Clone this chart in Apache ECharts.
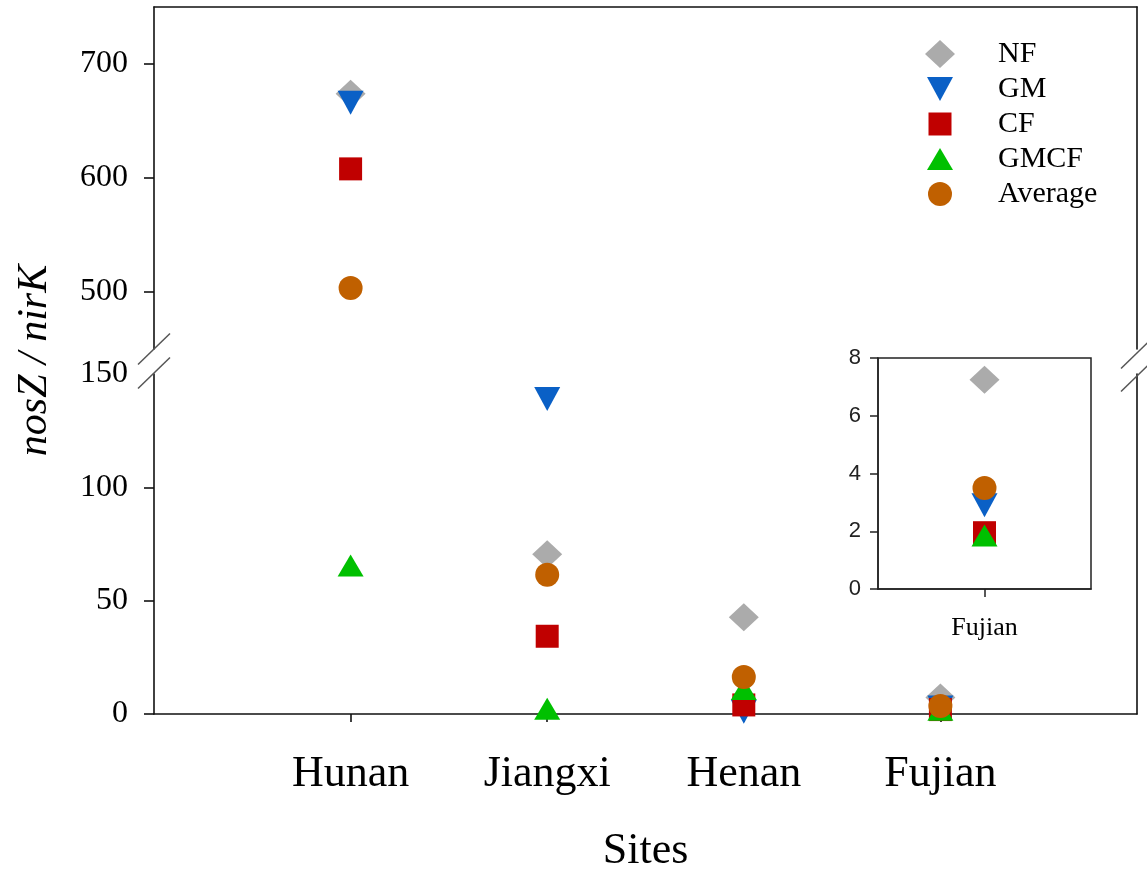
<!DOCTYPE html>
<html><head><meta charset="utf-8">
<script src="https://cdn.jsdelivr.net/npm/echarts@6/dist/echarts.min.js"></script>
<style>html,body{margin:0;padding:0;background:#fff}#c{width:1147px;height:871px}</style>
</head><body><div id="c"></div>
<script>
// ---- data ----
const sites = ['Hunan', 'Jiangxi', 'Henan', 'Fujian'];
const NF      = [674, 70.5, 42.7, 7.25];
const GM      = [666, 139, 1, 2.9];
const CF      = [608, 34.3, 4, 1.95];
const GMCF    = [65.5, 2.3, 11, 1.85];
const Average = [503.5, 61.4, 16.3, 3.5];
const upperTicks = [500, 600, 700];
const lowerTicks = [0, 50, 100, 150];
const insetTicks = [0, 2, 4, 6, 8];
const insetSite = 'Fujian';

const serif = 'Liberation Serif, Times New Roman, serif';
const sans = 'Liberation Sans, Arial, sans-serif';
const ink = '#111';

const treatments = [
  { name: 'NF', data: NF, color: '#ababab', symbol: 'path://M0,0M30,30M0,15L15,1L30,15L15,29Z' },
  { name: 'GM', data: GM, color: '#0a60c6', symbol: 'path://M0,0M30,30M2,3L28,3L15,27Z' },
  { name: 'CF', data: CF, color: '#c00000', symbol: 'path://M0,0M30,30M3.5,3.5L26.5,3.5L26.5,26.5L3.5,26.5Z' },
  { name: 'GMCF', data: GMCF, color: '#00c000', symbol: 'path://M0,0M30,30M15,4L28,26L2,26Z' },
  { name: 'Average', data: Average, color: '#c06000', symbol: 'path://M0,0M30,30M3,15A12,12 0 1,1 27,15A12,12 0 1,1 3,15Z' }
];

const UP_MIN = 450, UP_MAX = 750, LO_MIN = 0, LO_MAX = 150;
const series = [];
const insetIdx = sites.indexOf(insetSite);
treatments.forEach(t => {
  const common = {
    name: t.name, type: 'scatter', symbol: t.symbol, symbolSize: 30,
    itemStyle: { color: t.color, opacity: 1 }, emphasis: { disabled: true }, clip: false
  };
  series.push(Object.assign({}, common, {
    xAxisIndex: 0, yAxisIndex: 0,
    data: t.data.map((v, i) => [i + 1, v]).filter(p => p[1] >= UP_MIN && p[1] <= UP_MAX)
  }));
  series.push(Object.assign({}, common, {
    xAxisIndex: 1, yAxisIndex: 2,
    data: t.data.map((v, i) => [i + 1, v]).filter(p => p[1] >= LO_MIN && p[1] <= LO_MAX)
  }));
  series.push(Object.assign({}, common, {
    xAxisIndex: 2, yAxisIndex: 4, z: 6,
    data: [[1, t.data[insetIdx]]]
  }));
});

const frameLine = { show: true, lineStyle: { color: ink, width: 1.6 } };
const chart = echarts.init(document.getElementById('c'));
chart.setOption({
  animation: false,
  backgroundColor: '#fff',
  grid: [
    { left: 154, right: 10, top: 7, height: 342, outerBoundsMode: 'none', containLabel: false },
    { left: 154, right: 10, top: 374, height: 340, outerBoundsMode: 'none', containLabel: false },
    { left: 878, top: 358, width: 213, height: 231, show: true, borderColor: '#222', borderWidth: 1.5,
      backgroundColor: '#fff', z: 3, outerBoundsMode: 'none', containLabel: false }
  ],
  xAxis: [
    { gridIndex: 0, type: 'value', min: 0, max: 5, position: 'top', axisLine: frameLine,
      axisTick: { show: false }, axisLabel: { show: false }, splitLine: { show: false } },
    { gridIndex: 1, type: 'value', min: 0, max: 5, position: 'bottom', axisLine: frameLine,
      axisTick: { show: true, inside: false, length: 8, lineStyle: { color: ink, width: 1.6 }, customValues: [1, 2, 3, 4] },
      axisLabel: { show: true, margin: 38, customValues: [1, 2, 3, 4], formatter: v => sites[v - 1] || '',
        fontFamily: serif, fontSize: 44, color: '#000' },
      splitLine: { show: false },
      name: 'Sites', nameLocation: 'middle', nameGap: 115,
      nameTextStyle: { fontFamily: serif, fontSize: 44, color: '#000' } },
    { gridIndex: 2, type: 'value', min: 0, max: 2, position: 'bottom', z: 4,
      axisLine: { show: true, lineStyle: { color: '#222', width: 1.5 } },
      axisTick: { show: true, inside: false, length: 8, lineStyle: { color: '#222', width: 1.5 }, customValues: [1] },
      axisLabel: { show: true, margin: 26, customValues: [1], formatter: () => insetSite,
        fontFamily: serif, fontSize: 26, color: '#000' },
      splitLine: { show: false } }
  ],
  yAxis: [
    { gridIndex: 0, type: 'value', min: UP_MIN, max: UP_MAX, position: 'left', axisLine: frameLine,
      axisTick: { show: true, inside: false, length: 10, lineStyle: { color: ink, width: 1.6 }, customValues: upperTicks },
      axisLabel: { margin: 26, padding: [6, 0, 0, 0], customValues: upperTicks, fontFamily: serif, fontSize: 32, color: '#000' },
      splitLine: { show: false } },
    { gridIndex: 0, type: 'value', min: UP_MIN, max: UP_MAX, position: 'right', axisLine: frameLine,
      axisTick: { show: false }, axisLabel: { show: false }, splitLine: { show: false } },
    { gridIndex: 1, type: 'value', min: LO_MIN, max: LO_MAX, position: 'left', axisLine: frameLine,
      axisTick: { show: true, inside: false, length: 10, lineStyle: { color: ink, width: 1.6 }, customValues: lowerTicks.slice(0, 3) },
      axisLabel: { margin: 26, padding: [6, 0, 0, 0], customValues: lowerTicks, fontFamily: serif, fontSize: 32, color: '#000' },
      splitLine: { show: false } },
    { gridIndex: 1, type: 'value', min: LO_MIN, max: LO_MAX, position: 'right', axisLine: frameLine,
      axisTick: { show: false }, axisLabel: { show: false }, splitLine: { show: false } },
    { gridIndex: 2, type: 'value', min: 0, max: 8, position: 'left', z: 4,
      axisLine: { show: true, lineStyle: { color: '#222', width: 1.5 } },
      axisTick: { show: true, inside: false, length: 8, lineStyle: { color: '#222', width: 1.5 }, customValues: insetTicks },
      axisLabel: { margin: 17, customValues: insetTicks, fontFamily: sans, fontSize: 22, color: '#222' },
      splitLine: { show: false } }
  ],
  legend: {
    orient: 'vertical', left: 920, top: 34, itemWidth: 30, itemHeight: 30, itemGap: 5,
    data: treatments.map(t => t.name), selectedMode: false,
    textStyle: { fontFamily: serif, fontSize: 30, color: '#000', padding: [0, 0, 0, 38] }
  },
  series: series
});

// decorations: y title and axis-break marks
const pUpLeft = chart.convertToPixel({ xAxisIndex: 0, yAxisIndex: 0 }, [0, UP_MIN]);
const pUpRight = chart.convertToPixel({ xAxisIndex: 0, yAxisIndex: 0 }, [5, UP_MIN]);
const pLoLeft = chart.convertToPixel({ xAxisIndex: 1, yAxisIndex: 2 }, [0, LO_MAX]);
const pLoRight = chart.convertToPixel({ xAxisIndex: 1, yAxisIndex: 2 }, [5, LO_MAX]);
const pTop = chart.convertToPixel({ xAxisIndex: 0, yAxisIndex: 0 }, [0, UP_MAX]);
const pBot = chart.convertToPixel({ xAxisIndex: 1, yAxisIndex: 2 }, [0, LO_MIN]);
function slash(x, y) {
  return { type: 'line', z: 10, shape: { x1: x - 16, y1: y + 15.5, x2: x + 16, y2: y - 15.5 },
    style: { stroke: '#555', lineWidth: 1.5 } };
}
chart.setOption({
  graphic: [
    slash(pUpLeft[0], pUpLeft[1]), slash(pLoLeft[0], pLoLeft[1] - 1),
    slash(pUpRight[0], pUpRight[1] + 4), slash(pLoRight[0], pLoRight[1] + 2),
    { type: 'text', z: 10, x: 35, y: (pTop[1] + pBot[1]) / 2, rotation: Math.PI / 2,
      style: { text: 'nosZ / nirK', font: 'italic 42px ' + serif, fill: '#000', align: 'center', verticalAlign: 'middle' } }
  ]
});
</script></body></html>
